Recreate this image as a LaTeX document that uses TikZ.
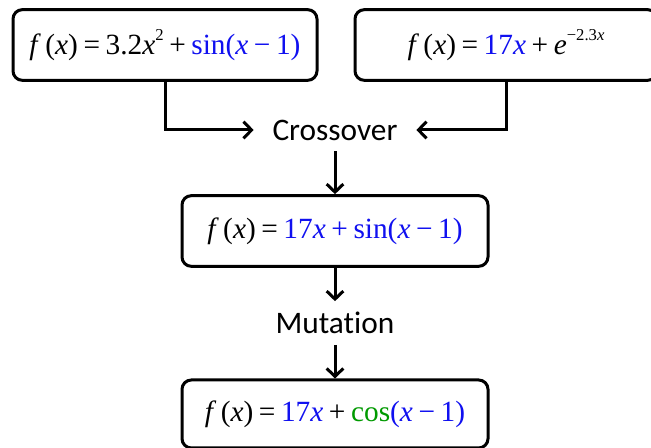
\documentclass[tikz,border=0pt]{standalone}
\usepackage{fontspec}
\setmainfont{Liberation Serif}
\newfontfamily\opfont[Ligatures=NoCommon]{Carlito}
\usetikzlibrary{arrows.meta,positioning}
\definecolor{Ink}{HTML}{000000}
\definecolor{Gene}{HTML}{1010F0}
\definecolor{Mut}{HTML}{009A00}
\newcommand{\vx}{\textit{x}\/}
\newcommand{\op}[1]{\hspace{0.19em}#1\hspace{0.19em}}
\newcommand{\fx}{\textit{f}\hspace{0.15em}(\vx)\op{=}}
\newcommand{\gene}[1]{\textcolor{Gene}{#1}}
\newcommand{\sups}[1]{\raisebox{0.5em}{\fontsize{12.5}{13}\selectfont#1}}
\tikzset{fbox/.style={draw=Ink,line width=2.25pt,rounded corners=7pt,fill=white,
    minimum width=229.5pt,minimum height=53pt,inner sep=0pt,
    font=\fontsize{22}{24}\selectfont,text=Ink},
  opname/.style={inner xsep=14pt,inner ysep=8pt,font=\opfont\fontsize{23.5}{26}\selectfont,text=Ink},
  edge/.style={-{Straight Barb[length=6pt,width=12.5pt,line width=2.25pt]},line width=2.25pt,draw=Ink}}

\begin{document}
\begin{tikzpicture}[x=0.75pt,y=-0.75pt]
    \useasboundingbox (0,0) rectangle (651,448);
    \clip (0,0) rectangle (651,448);
    \node[fbox,minimum width=228pt] (pa) at (165,45) {\fx3.2\vx\sups{2}\op{+}\gene{sin(\vx\op{−}1)}};
    \node[fbox,minimum width=226.5pt] (pb) at (506,45) {\fx\gene{17\vx}\op{+}\textit{e}\sups{−2.3\textit{x}}};
    \node[opname] (co) at (335,130) {Crossover};
    \node[fbox] (ch) at (335,231) {\fx\gene{17\vx\op{+}sin(\vx\op{−}1)}};
    \node[opname] (mu) at (335,323) {Mutation};
    \node[fbox,minimum height=51pt] (mt) at (335,414) {\fx\gene{17\vx}\op{+}\textcolor{Mut}{cos}\gene{(\vx\op{−}1)}};
    \draw[edge] (pa.south) |- (co.west);
    \draw[edge] (pb.south) |- (co.east);
    \draw[edge] (co)--(ch);
    \draw[edge] (ch)--(mu);
    \draw[edge] (mu)--(mt);
  \end{tikzpicture}
\end{document}
